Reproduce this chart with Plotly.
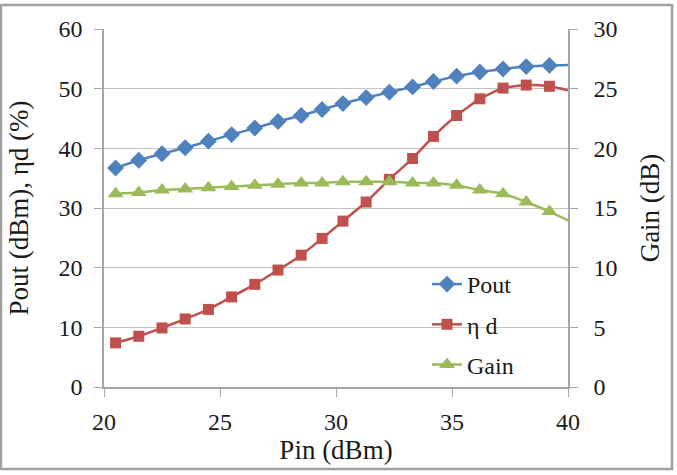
import plotly.graph_objects as go

# ---- data ----
pin = [20.5, 21.5, 22.5, 23.5, 24.5, 25.5, 26.5, 27.5, 28.5, 29.4, 30.3,
       31.3, 32.3, 33.3, 34.2, 35.2, 36.2, 37.2, 38.2, 39.2, 40.5]
pout = [36.7, 38.0, 39.1, 40.1, 41.2, 42.3, 43.4, 44.5, 45.5, 46.5, 47.5,
        48.5, 49.4, 50.3, 51.2, 52.1, 52.8, 53.3, 53.7, 53.9, 54.0]
eta_d = [7.4, 8.5, 9.9, 11.4, 13.0, 15.1, 17.2, 19.6, 22.1, 24.9, 27.8,
         31.0, 34.8, 38.3, 42.0, 45.5, 48.3, 50.1, 50.6, 50.4, 49.3]
gain = [16.2, 16.3, 16.5, 16.6, 16.7, 16.8, 16.9, 17.0, 17.1, 17.1, 17.2,
        17.2, 17.2, 17.1, 17.1, 16.9, 16.5, 16.2, 15.5, 14.7, 13.5]

series_names = ["Pout", "η d", "Gain"]
x_ticks = [20, 25, 30, 35, 40]
y_left_ticks = [0, 10, 20, 30, 40, 50, 60]
y_right_ticks = [0, 5, 10, 15, 20, 25, 30]

BLUE = "#4F81BD"
RED = "#C0504D"
GREEN = "#9BBB59"
FONT = "Liberation Serif"
TXT = "#1a1a1a"
AXC = "#a6a6a6"
GRIDC = "#c4c4c4"

W, H = 677, 475
ML, MR, MT, MB = 104, 109, 29, 88

fig = go.Figure()
fig.add_trace(go.Scatter(
    x=pin, y=pout, name=series_names[0], mode="lines+markers",
    line=dict(color=BLUE, width=2.5, shape="spline", smoothing=0.5),
    marker=dict(symbol="diamond", size=13, color=BLUE),
    legendgroup="a"))
fig.add_trace(go.Scatter(
    x=pin, y=eta_d, name=series_names[1], mode="lines+markers",
    line=dict(color=RED, width=2.5, shape="spline", smoothing=0.5),
    marker=dict(symbol="square", size=11, color=RED),
    legendgroup="b"))
fig.add_trace(go.Scatter(
    x=pin, y=gain, name=series_names[2], mode="lines+markers", yaxis="y2",
    line=dict(color=GREEN, width=2.5, shape="spline", smoothing=0.5),
    marker=dict(symbol="triangle-up", size=14, color=GREEN),
    legendgroup="c"))

pw = W - ML - MR
ph = H - MT - MB

fig.update_layout(
    width=W, height=H,
    margin=dict(l=ML, r=MR, t=MT, b=MB, autoexpand=False),
    paper_bgcolor="white", plot_bgcolor="white",
    font=dict(family=FONT, color=TXT, size=22),
    showlegend=True,
    legend=dict(x=(427 - ML) / pw, y=(MT + ph - 262) / ph,
                xanchor="left", yanchor="top",
                bgcolor="rgba(0,0,0,0)", font=dict(size=24, family=FONT),
                tracegroupgap=6, itemwidth=30),
    xaxis=dict(range=[20, 40], tickvals=x_ticks, ticks="outside", ticklen=8,
               tickcolor=AXC, showline=True, linecolor=AXC, linewidth=1.5,
               showgrid=False, zeroline=False,
               tickfont=dict(size=24, family=FONT), ticklabelstandoff=4,
               title=dict(text="Pin (dBm)", font=dict(size=27, family=FONT), standoff=3)),
    yaxis=dict(range=[0, 60], tickvals=y_left_ticks, ticks="outside", ticklen=8,
               tickcolor=AXC, showline=True, linecolor=AXC, linewidth=1.5,
               showgrid=True, gridcolor=GRIDC, gridwidth=1, zeroline=False,
               tickfont=dict(size=24, family=FONT), ticklabelstandoff=7,
               title=dict(text="Pout (dBm), ηd (%)", font=dict(size=27, family=FONT), standoff=22)),
    yaxis2=dict(range=[0, 30], tickvals=y_right_ticks, overlaying="y", side="right",
                ticks="outside", ticklen=8, tickcolor=AXC, showline=True,
                linecolor=AXC, linewidth=1.5, showgrid=False, zeroline=False,
                tickfont=dict(size=24, family=FONT), ticklabelstandoff=11,
                title=dict(text="Gain (dB)", font=dict(size=27, family=FONT), standoff=24)),
)

# outer frame of the figure
fig.add_shape(type="rect", xref="paper", yref="paper",
              x0=(1 - ML) / pw, x1=(672 - ML) / pw,
              y0=(MT + ph - 469) / ph, y1=(MT + ph - 5) / ph,
              line=dict(color="#a0a0a0", width=2.5), fillcolor="rgba(0,0,0,0)",
              layer="below")

fig.write_html("out.html")
